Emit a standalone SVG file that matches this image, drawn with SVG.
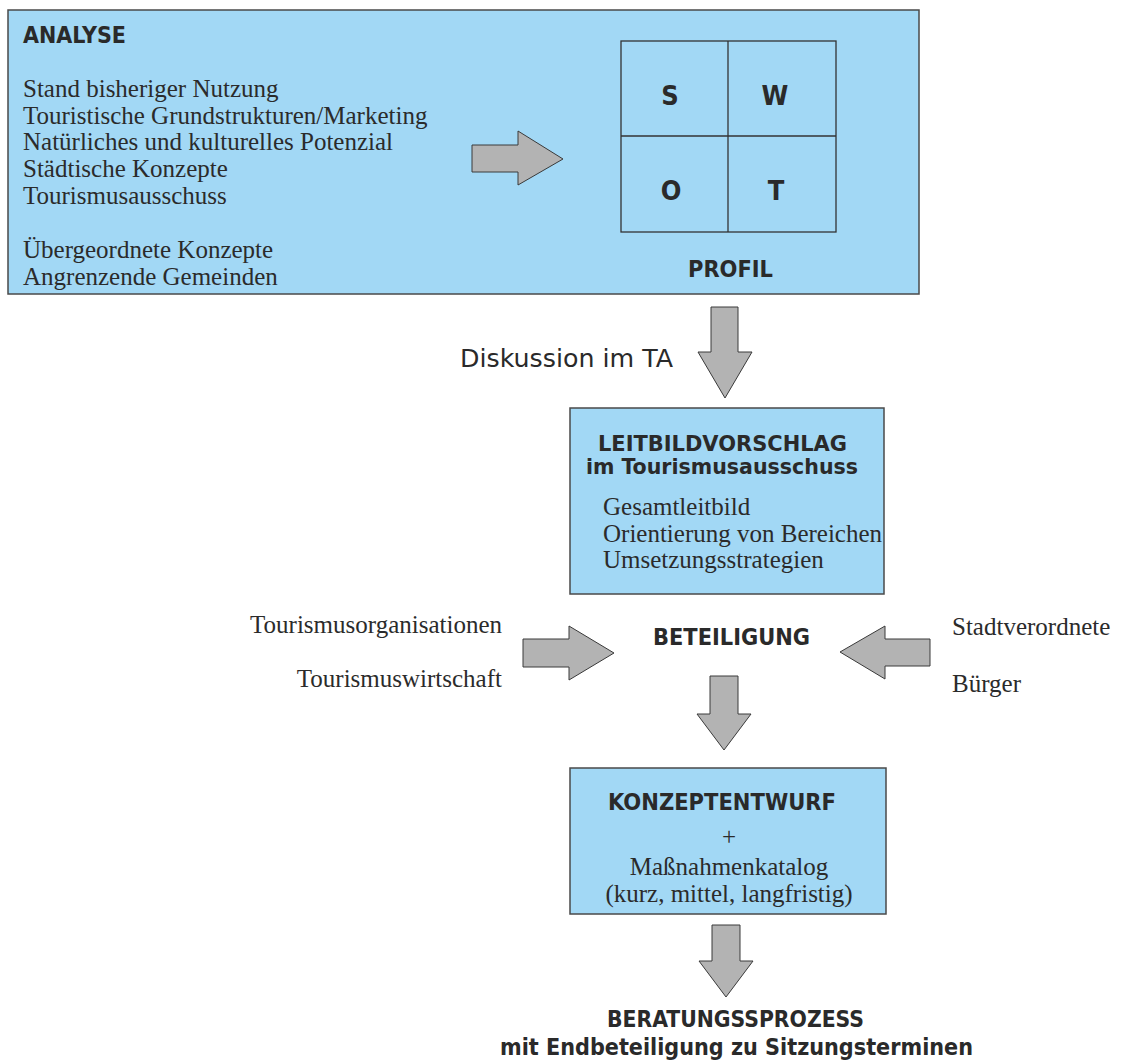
<svg xmlns="http://www.w3.org/2000/svg" width="1127" height="1064" viewBox="0 0 1127 1064">
<defs>
<style>
.box{fill:#A2D8F5;stroke:#4a4a4a;stroke-width:1.5}
.arrow{fill:#B3B3B3;stroke:#3a3a3a;stroke-width:1}
.grid{fill:none;stroke:#333;stroke-width:1.3}
.hd{font-family:"DejaVu Sans Condensed","DejaVu Sans",sans-serif;font-stretch:condensed;font-weight:bold;font-size:23px;fill:#2a2a2a}
.hs{font-size:21px}
.sw{font-family:"DejaVu Sans Condensed","DejaVu Sans",sans-serif;font-stretch:condensed;font-weight:bold;font-size:27px;fill:#2a2a2a;text-anchor:middle}
.sr{font-family:"Liberation Serif","Times New Roman",serif;font-size:25px;fill:#2b2b2b}
.ss{font-family:"DejaVu Sans",sans-serif;font-size:25px;fill:#2a2a2a}
.mid{text-anchor:middle}
.end{text-anchor:end}
</style>
</defs>
<rect width="1127" height="1064" fill="#ffffff"/>

<g id="analyse">
<rect class="box" x="8" y="10" width="911" height="284"/>
<text class="hd" x="23" y="43" textLength="103" lengthAdjust="spacingAndGlyphs">ANALYSE</text>
<text class="sr" x="23" y="97">Stand bisheriger Nutzung</text>
<text class="sr" x="23" y="124">Touristische Grundstrukturen/Marketing</text>
<text class="sr" x="23" y="150">Natürliches und kulturelles Potenzial</text>
<text class="sr" x="23" y="177">Städtische Konzepte</text>
<text class="sr" x="23" y="204">Tourismusausschuss</text>
<text class="sr" x="23" y="258">Übergeordnete Konzepte</text>
<text class="sr" x="23" y="285">Angrenzende Gemeinden</text>
</g>

<g id="swot">
<rect class="grid" x="621" y="41" width="215" height="191"/>
<line class="grid" x1="728" y1="41" x2="728" y2="232"/>
<line class="grid" x1="621" y1="136" x2="836" y2="136"/>
<text class="sw" x="670" y="105">S</text>
<text class="sw" x="775" y="105">W</text>
<text class="sw" x="671" y="200">O</text>
<text class="sw" x="776" y="200">T</text>
<text class="hd" x="688" y="277" textLength="85" lengthAdjust="spacingAndGlyphs">PROFIL</text>
</g>

<g id="leitbild">
<rect class="box" x="570" y="408" width="314" height="186"/>
<text class="hd hs" x="598" y="451" textLength="249" lengthAdjust="spacingAndGlyphs">LEITBILDVORSCHLAG</text>
<text class="hd hs" x="586" y="474" textLength="272" lengthAdjust="spacingAndGlyphs">im Tourismusausschuss</text>
<text class="sr" x="603" y="515">Gesamtleitbild</text>
<text class="sr" x="603" y="542">Orientierung von Bereichen</text>
<text class="sr" x="603" y="568">Umsetzungsstrategien</text>
</g>

<g id="beteiligung">
<text class="hd" x="653" y="645" textLength="157" lengthAdjust="spacingAndGlyphs">BETEILIGUNG</text>
</g>

<g id="akteure-links">
<text class="sr end" x="502" y="633">Tourismusorganisationen</text>
<text class="sr end" x="502" y="687">Tourismuswirtschaft</text>
</g>

<g id="akteure-rechts">
<text class="sr" x="952" y="635">Stadtverordnete</text>
<text class="sr" x="952" y="692">Bürger</text>
</g>

<g id="konzept">
<rect class="box" x="570" y="768" width="316" height="146"/>
<text class="hd" x="608" y="810" textLength="228" lengthAdjust="spacingAndGlyphs">KONZEPTENTWURF</text>
<text class="sr mid" x="729" y="845">+</text>
<text class="sr mid" x="729" y="875">Maßnahmenkatalog</text>
<text class="sr mid" x="729" y="902">(kurz, mittel, langfristig)</text>
</g>

<g id="beratung">
<text class="hd" x="607" y="1027" textLength="257" lengthAdjust="spacingAndGlyphs">BERATUNGSSPROZESS</text>
<text class="hd" x="500" y="1055" textLength="473" lengthAdjust="spacingAndGlyphs">mit Endbeteiligung zu Sitzungsterminen</text>
</g>

<g id="connectors">
<polygon class="arrow" points="472,145 518,145 518,131 563,159 518,185 518,172 472,172"/>
<polygon class="arrow" points="711,307 738,307 738,352 752,352 725,398 698,352 711,352"/>
<text class="ss" x="460" y="367" textLength="213" lengthAdjust="spacingAndGlyphs">Diskussion im TA</text>
<polygon class="arrow" points="523,639 569,639 569,626 614,653 569,680 569,667 523,667"/>
<polygon class="arrow" points="840,652 885,626 885,639 930,639 930,666 885,666 885,679"/>
<polygon class="arrow" points="710,676 738,676 738,714 751,714 724,750 697,714 710,714"/>
<polygon class="arrow" points="712,925 740,925 740,961 753,961 726,997 699,961 712,961"/>
</g>
</svg>
